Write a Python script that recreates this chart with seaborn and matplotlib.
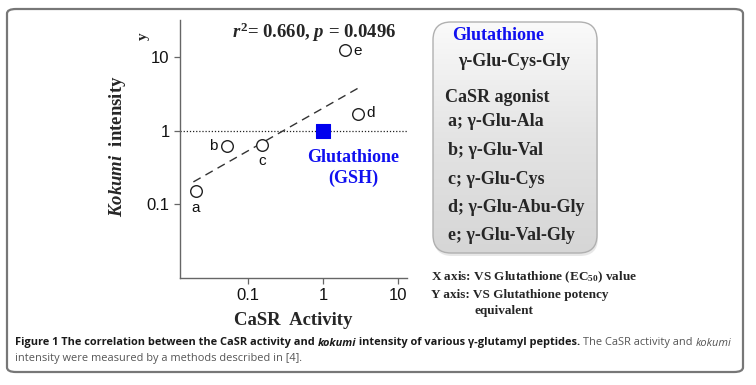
import numpy as np
import seaborn as sns
import matplotlib.pyplot as plt
from matplotlib.patches import FancyBboxPatch

# data
peptides = ["a", "b", "c", "d", "e"]
casr_activity = [0.020, 0.053, 0.155, 2.9, 1.95]
kokumi_intensity = [0.15, 0.61, 0.63, 1.68, 12.4]
gsh_activity = [1.0]
gsh_intensity = [1.0]
fit_slope = 0.579
fit_intercept = 0.304
fit_x_range = [0.0187, 2.96]
box_lines = ["a; γ-Glu-Ala", "b; γ-Glu-Val", "c; γ-Glu-Cys", "d; γ-Glu-Abu-Gly", "e; γ-Glu-Val-Gly"]

W, H = 756, 385
SERIF = "Liberation Serif"
SANS = "Liberation Sans"
BLUE = "#1010f0"

plt.rcParams["mathtext.fontset"] = "custom"
plt.rcParams["mathtext.rm"] = "Liberation Serif:bold"
plt.rcParams["mathtext.bf"] = "Liberation Serif:bold"
plt.rcParams["mathtext.it"] = "Liberation Serif:italic:bold"


def fx(px):
    return px / W


def fy(py):
    return 1 - py / H


sns.set_style("ticks")
fig = plt.figure(figsize=(W / 100, H / 100), dpi=100)
fig.patch.set_facecolor("white")

# outer rounded frame
frame = FancyBboxPatch((fx(7), fy(372)), fx(736), fy(9) - fy(372),
                       boxstyle="round,pad=0,rounding_size=0.012",
                       transform=fig.transFigure, fc="none", ec="#777777", lw=1.6)
fig.patches.append(frame)

ax = fig.add_axes([fx(180), fy(278), fx(407) - fx(180), fy(20) - fy(278)])
ax.set_xscale("log")
ax.set_yscale("log")
ax.set_xlim(0.0124, 13.2)
ax.set_ylim(0.01, 31.6)

ax.axhline(1, color="#222222", lw=0.9, ls=(0, (1, 1.5)))

fit_x = np.array(fit_x_range)
fit_y = 10 ** (fit_intercept + fit_slope * np.log10(fit_x))
sns.lineplot(x=fit_x, y=fit_y, ax=ax, color="#333333", lw=1.0,
             linestyle=(0, (6, 4)))

sns.scatterplot(x=casr_activity, y=kokumi_intensity, ax=ax, marker="o",
                s=70, facecolor="white", edgecolor="#222222", linewidth=1.0, zorder=3)
sns.scatterplot(x=gsh_activity, y=gsh_intensity, ax=ax, marker="s",
                s=95, color="#0000ee", edgecolor="#0000ee", zorder=3)

offsets = {"a": (0, -12), "b": (-10, 0), "c": (0, -11), "d": (9, 1), "e": (9, -1)}
for lab, xv, yv in zip(peptides, casr_activity, kokumi_intensity):
    dx, dy = offsets[lab]
    ax.annotate(lab, (xv, yv), xytext=(dx, dy), textcoords="offset points",
                ha="center", va="center", fontsize=11, family=SANS, color="#111111")

ax.annotate("Glutathione\n(GSH)", (gsh_activity[0], gsh_intensity[0]),
            xytext=(22, -27), textcoords="offset points", ha="center", va="center",
            fontsize=13, family=SERIF, fontweight="bold", color=BLUE, linespacing=1.3)

ax.set_xticks([0.1, 1, 10])
ax.set_xticklabels(["0.1", "1", "10"])
ax.set_yticks([0.1, 1, 10])
ax.set_yticklabels(["0.1", "1", "10"])
ax.minorticks_off()
ax.tick_params(labelsize=12, length=4, width=0.9, color="#666666", labelcolor="#111111")
for lab in ax.get_xticklabels() + ax.get_yticklabels():
    lab.set_family(SANS)
for side in ["left", "bottom"]:
    ax.spines[side].set_color("#666666")
    ax.spines[side].set_linewidth(1.0)
sns.despine(ax=ax)

ax.set_xlabel("CaSR  Activity", family=SERIF, fontweight="bold", fontsize=13.5, labelpad=6)
fig.text(fx(118), fy(146), r"$\mathit{Kokumi}$  intensity", rotation=90, ha="center",
         va="center", family=SERIF, fontweight="bold", fontsize=13.5)
fig.text(fx(143), fy(36), "y", rotation=90, ha="center", va="center",
         family=SERIF, fontweight="bold", fontsize=11)
fig.text(fx(314), fy(32), r"$\mathit{r}^{2}$= 0.660, $\mathit{p}$ = 0.0496", ha="center",
         va="center", family=SERIF, fontweight="bold", fontsize=13.5)

# rounded gradient box with the peptide list
bax = fig.add_axes([0, 0, 1, 1], zorder=0.5)
bax.set_xlim(0, W)
bax.set_ylim(H, 0)
bax.axis("off")
shadow = FancyBboxPatch((434, 25), 164, 231, boxstyle="round,pad=0,rounding_size=18",
                        fc="#d0d0d0", ec="none", alpha=0.5)
bax.add_patch(shadow)
box = FancyBboxPatch((433, 22), 164, 231, boxstyle="round,pad=0,rounding_size=18",
                     fc="none", ec="#b0b0b0", lw=1.0)
bax.add_patch(box)
grad = np.linspace(0, 1, 256).reshape(-1, 1)
img = bax.imshow(grad, cmap=sns.blend_palette(["#fafafa", "#e4e4e4", "#d6d6d6"], as_cmap=True),
                 extent=(433, 597, 253, 22), aspect="auto", zorder=1)
img.set_clip_path(box)
box.set_zorder(2)

bax.text(452, 36, "Glutathione", color=BLUE, family=SERIF, fontweight="bold",
         fontsize=13, va="center", ha="left")
bax.text(458, 61, "γ-Glu-Cys-Gly", family=SERIF, fontweight="bold", fontsize=13,
         va="center", ha="left")
bax.text(445, 97, "CaSR agonist", family=SERIF, fontweight="bold", fontsize=13,
         va="center", ha="left")
for i, line in enumerate(box_lines):
    bax.text(448, 122 + i * 28.5, line, family=SERIF, fontweight="bold", fontsize=13,
             va="center", ha="left")

note_kw = dict(family=SERIF, fontweight="bold", fontsize=9.5, va="center")
bax.text(431, 277, r"X axis: VS Glutathione (EC$_{50}$) value", ha="left", **note_kw)
bax.text(431, 295, "Y axis: VS Glutathione potency", ha="left", **note_kw)
bax.text(504, 311, "equivalent", ha="center", **note_kw)

# caption, built from styled pieces
cap_font = "Open Sans"
cap_size = 7.9
pieces1 = [("Figure 1 The correlation between the CaSR activity and ", "bold", "normal", "#1a1a1a"),
           ("kokumi", "bold", "italic", "#1a1a1a"),
           (" intensity of various γ-glutamyl peptides.", "bold", "normal", "#1a1a1a"),
           (" The CaSR activity and ", "normal", "normal", "#555555"),
           ("kokumi", "normal", "italic", "#555555")]
prev = None
for txt, wt, st, col in pieces1:
    if prev is None:
        prev = bax.text(15, 343, txt, family=cap_font, fontweight=wt, fontstyle=st,
                        color=col, fontsize=cap_size, va="center", ha="left")
    else:
        prev = bax.annotate(txt, xy=(1, 0), xycoords=prev, va="bottom", ha="left",
                            family=cap_font, fontweight=wt, fontstyle=st,
                            color=col, fontsize=cap_size)
bax.text(15, 359, "intensity were measured by a methods described in [4].", family=cap_font,
         color="#555555", fontsize=cap_size, va="center", ha="left")

fig.savefig("out.png", dpi=100)
